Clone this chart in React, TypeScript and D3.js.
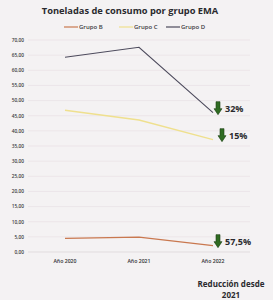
import { useEffect, useRef } from "react";
import * as d3 from "d3";

// tonnes consumed per EMA group
const years = ["Año 2020", "Año 2021", "Año 2022"];
const grupoB = [4.5, 4.9, 2.1];
const grupoC = [46.8, 43.6, 37.1];
const grupoD = [64.3, 67.6, 46.0];
const yTicks = [0, 5, 10, 15, 20, 25, 30, 35, 40, 45, 50, 55, 60, 65, 70];
const reductions = ["57,5%", "15%", "32%"];

const series = [
  { name: "Grupo B", values: grupoB, color: "#c9784f", width: 1.4 },
  { name: "Grupo C", values: grupoC, color: "#efe08e", width: 1.4 },
  { name: "Grupo D", values: grupoD, color: "#4c4a5c", width: 1.1 },
];

const W = 273;
const H = 300;
const font = "'Open Sans', 'Liberation Sans', sans-serif";

export default function App() {
  const ref = useRef<SVGSVGElement>(null);

  useEffect(() => {
    const svg = d3.select(ref.current);
    svg.selectAll("*").remove();

    const x = d3.scaleBand().domain(years).range([28, 250]);
    const cx = (d: string) => (x(d) as number) + x.bandwidth() / 2;
    const y = d3.scaleLinear().domain([0, 70]).range([252, 40]);

    svg.append("rect").attr("width", W).attr("height", H).attr("fill", "#f4f2f3");

    // gridlines + y labels
    const yAxis = svg.append("g");
    yAxis.selectAll("line")
      .data(yTicks)
      .join("line")
        .attr("x1", 28).attr("x2", 250)
        .attr("y1", d => y(d)).attr("y2", d => y(d))
        .attr("stroke", d => (d === 0 ? "#d8d4d6" : "#e8dfe4"))
        .attr("stroke-width", 0.7);
    yAxis.selectAll("text")
      .data(yTicks)
      .join("text")
        .attr("x", 24)
        .attr("y", d => y(d) + 1.8)
        .attr("text-anchor", "end")
        .attr("font-family", font)
        .attr("font-size", 4.8)
        .attr("font-weight", 600)
        .attr("fill", "#3a3a40")
        .text(d => d3.format(".2f")(d).replace(".", ","));

    // x labels
    svg.append("g").selectAll("text")
      .data(years)
      .join("text")
        .attr("x", d => cx(d))
        .attr("y", 263)
        .attr("text-anchor", "middle")
        .attr("font-family", font)
        .attr("font-size", 5.2)
        .attr("font-weight", 600)
        .attr("fill", "#333")
        .text(d => d);

    // lines
    const line = d3.line<number>()
      .x((_, i) => cx(years[i]))
      .y(d => y(d));
    svg.append("g").selectAll("path")
      .data(series)
      .join("path")
        .attr("d", d => line(d.values))
        .attr("fill", "none")
        .attr("stroke", d => d.color)
        .attr("stroke-width", d => d.width);

    // title
    svg.append("text")
      .attr("x", 130).attr("y", 14)
      .attr("text-anchor", "middle")
      .attr("font-family", font)
      .attr("font-size", 9.3)
      .attr("font-weight", 700)
      .attr("fill", "#2a2a2e")
      .text("Toneladas de consumo por grupo EMA");

    // legend
    const legendX = [64, 119, 166];
    const lg = svg.append("g").selectAll("g")
      .data(series)
      .join("g")
        .attr("transform", (_, i) => `translate(${legendX[i]},27)`);
    lg.append("line")
      .attr("x1", 0).attr("x2", 14)
      .attr("stroke", d => d.color)
      .attr("stroke-width", 1.2);
    lg.append("text")
      .attr("x", 15).attr("y", 2)
      .attr("font-family", font)
      .attr("font-size", 6)
      .attr("font-weight", 600)
      .attr("fill", "#3a3a40")
      .text(d => d.name);

    // reduction arrows next to the 2022 points
    const arrowX = [218, 222, 218];
    const ann = svg.append("g").selectAll("g")
      .data(series)
      .join("g")
        .attr("transform", (d, i) => `translate(${arrowX[i]},${y(d.values[2]) - 4})`);
    ann.append("path")
      .attr("d", "M-2,-7 H2 V0 H4 L0,6 L-4,0 H-2 Z")
      .attr("fill", "#2f6b22")
      .attr("stroke", "#1c4014")
      .attr("stroke-width", 0.6);
    ann.append("text")
      .attr("x", 7).attr("y", 3.5)
      .attr("font-family", font)
      .attr("font-size", 9)
      .attr("font-weight", 700)
      .attr("fill", "#2a2a2e")
      .text((_, i) => reductions[i]);

    const foot = svg.append("text")
      .attr("text-anchor", "middle")
      .attr("font-family", font)
      .attr("font-size", 8)
      .attr("font-weight", 700)
      .attr("fill", "#2a2a2e");
    foot.append("tspan").attr("x", 231).attr("y", 287).text("Reducción desde");
    foot.append("tspan").attr("x", 231).attr("y", 298).text("2021");
  }, []);

  return (
    <div style={{ position: "fixed", left: 0, top: 0 }}>
      <svg ref={ref} width={W} height={H} style={{ display: "block" }} />
    </div>
  );
}
